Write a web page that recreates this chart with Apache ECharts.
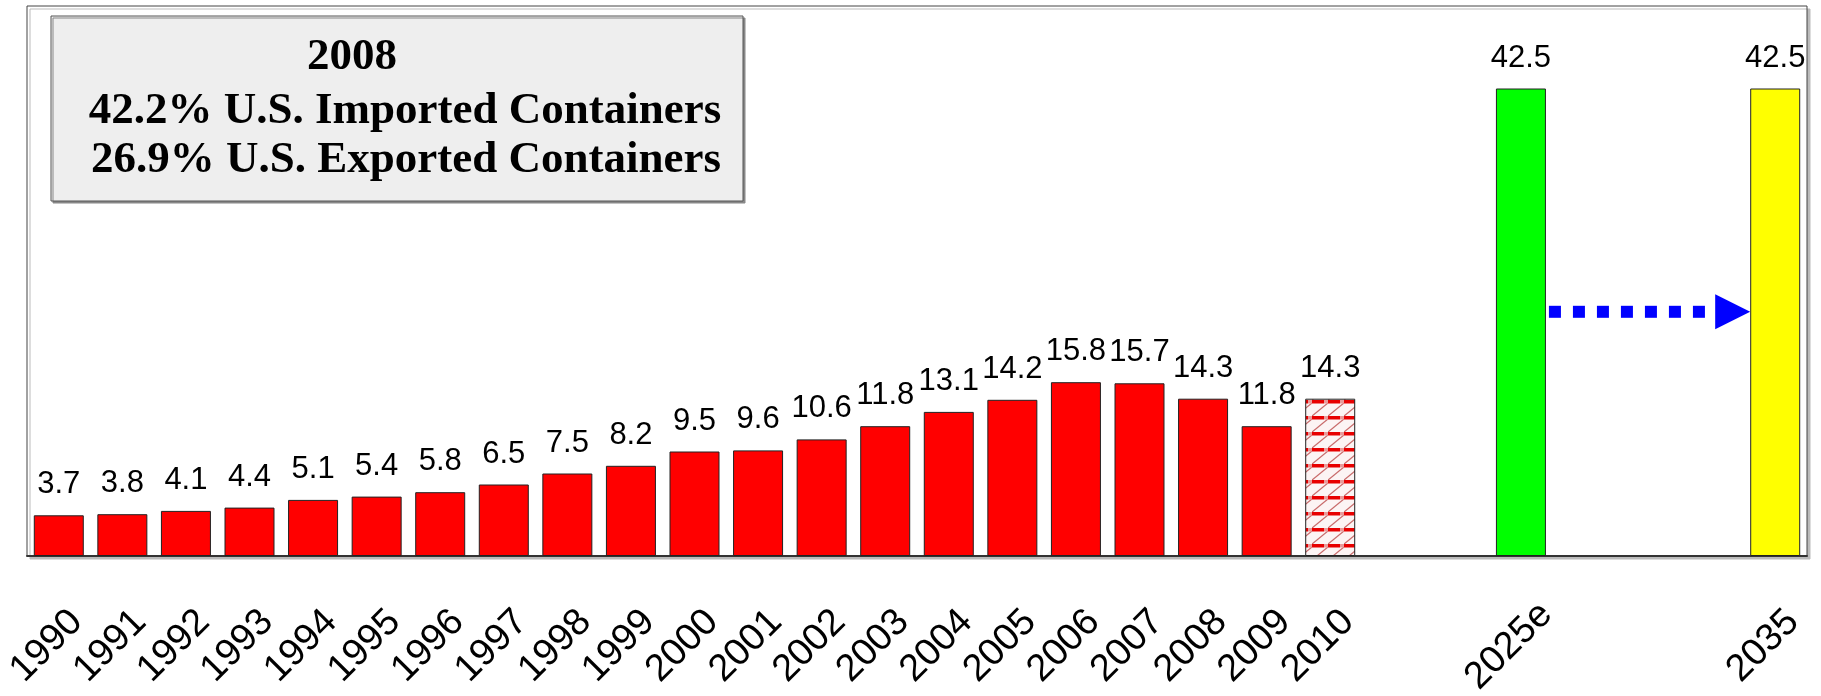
<!DOCTYPE html>
<html>
<head>
<meta charset="utf-8">
<script src="https://cdn.jsdelivr.net/npm/echarts@6/dist/echarts.min.js"></script>
<style>
html,body{margin:0;padding:0;background:#fff;}
#chart{width:1821px;height:696px;}
</style>
</head>
<body>
<div id="chart"></div>
<script>
// ---- data ----
const historyYears = ['1990','1991','1992','1993','1994','1995','1996','1997','1998','1999','2000','2001','2002','2003','2004','2005','2006','2007','2008','2009','2010'];
const historyValues = [3.7,3.8,4.1,4.4,5.1,5.4,5.8,6.5,7.5,8.2,9.5,9.6,10.6,11.8,13.1,14.2,15.8,15.7,14.3,11.8,14.3];
const forecastLabels = ['2025e','2035'];
const forecastValues = [42.5,42.5];
const arrowLevel = 22.2;
const boxLines = ['2008','42.2% U.S. Imported Containers','26.9% U.S. Exported Containers'];

// ---- layout: category axis with empty slots between groups ----
const gapBefore = [2, 3]; // empty slots before each forecast bar
const categories = historyYears.slice();
const values = historyValues.slice();
let blank = '';
forecastLabels.forEach((lab, i) => {
  for (let k = 0; k < gapBefore[i]; k++) { blank += ' '; categories.push(blank); values.push('-'); }
  categories.push(lab); values.push(forecastValues[i]);
});

// hatched pattern for the 2010 (estimate) bar
function makePattern() {
  const c = document.createElement('canvas');
  c.width = 16; c.height = 16;
  const g = c.getContext('2d');
  g.fillStyle = '#fcf4f4'; g.fillRect(0,0,16,16);
  g.strokeStyle = '#c86a6a'; g.lineWidth = 1.3;
  g.beginPath(); g.moveTo(0,16); g.lineTo(16,3); g.stroke();
  g.fillStyle = '#e80000'; g.fillRect(0,0,12,3.5);
  g.fillStyle = '#e99a9a'; g.fillRect(12,0,4,3.5);
  return c;
}
const styleFor = {
  '2010': { color: { image: makePattern(), repeat: 'repeat' } },
  '2025e': { color: '#00ff00' },
  '2035': { color: '#ffff00' }
};

const barData = values.map((v, i) => {
  const st = styleFor[categories[i]] || { color: '#ff0000' };
  return { value: v, itemStyle: Object.assign({ borderColor: '#222', borderWidth: 1 }, st) };
});

const chart = echarts.init(document.getElementById('chart'), null, { renderer: 'canvas' });
const fromIdx = categories.indexOf(forecastLabels[0]);
const toIdx = categories.indexOf(forecastLabels[1]);
const BAR_W = 50;
const boxFont = 'bold 45px "Liberation Serif", "Times New Roman", serif';

chart.setOption({
  animation: false,
  grid: {
    left: 27, right: 14, top: 6, bottom: 140, show: true,
    outerBoundsMode: 'none', containLabel: false,
    borderColor: '#444', borderWidth: 1, backgroundColor: '#fff',
    shadowColor: '#bbbbbb', shadowOffsetX: 3, shadowOffsetY: 3, shadowBlur: 0
  },
  xAxis: {
    type: 'category', data: categories,
    axisLine: { lineStyle: { color: '#333', width: 2 } },
    axisTick: { show: false },
    axisLabel: {
      interval: 0, rotate: 45, align: 'center', padding: [0, 34, 0, 0], margin: 78,
      fontSize: 38, fontFamily: 'Liberation Sans, Arial, sans-serif', color: '#000'
    }
  },
  yAxis: {
    type: 'value', min: 0, max: 50, interval: 10,
    show: false, splitLine: { show: false }
  },
  series: [
    {
      type: 'bar', data: barData, barWidth: BAR_W,
      label: {
        show: true, position: 'top', distance: 15,
        fontSize: 31, fontFamily: 'Liberation Sans, Arial, sans-serif', color: '#000'
      }
    },
    {
      type: 'custom', silent: true,
      encode: { x: [0, 1], y: 2 },
      data: [[fromIdx, toIdx, arrowLevel]],
      renderItem: function (params, api) {
        const p1 = api.coord([api.value(0), api.value(2)]);
        const p2 = api.coord([api.value(1), api.value(2)]);
        const y = p1[1];
        const x1 = p1[0] + BAR_W / 2 + 3;
        const tip = p2[0] - BAR_W / 2;
        return {
          type: 'group',
          children: [
            { type: 'line', shape: { x1: x1, y1: y, x2: tip - 28, y2: y },
              style: { stroke: '#0000ff', lineWidth: 12, lineDash: [12, 12] } },
            { type: 'polygon', shape: { points: [[tip - 35, y - 17.5], [tip, y], [tip - 35, y + 17.5]] },
              style: { fill: '#0000ff' } }
          ]
        };
      }
    }
  ],
  graphic: [
    { type: 'rect', shape: { x: 51, y: 16, width: 692, height: 185 },
      style: { fill: '#eeeeee', stroke: '#555', lineWidth: 1,
               shadowColor: '#888', shadowOffsetX: 2, shadowOffsetY: 2, shadowBlur: 0 } },
    { type: 'text', x: 352, y: 57,
      style: { text: boxLines[0], font: boxFont, fill: '#000', align: 'center', verticalAlign: 'middle' } },
    { type: 'text', x: 405, y: 111,
      style: { text: boxLines[1], font: boxFont, fill: '#000', align: 'center', verticalAlign: 'middle' } },
    { type: 'text', x: 406, y: 160,
      style: { text: boxLines[2], font: boxFont, fill: '#000', align: 'center', verticalAlign: 'middle' } }
  ]
});
</script>
</body>
</html>
